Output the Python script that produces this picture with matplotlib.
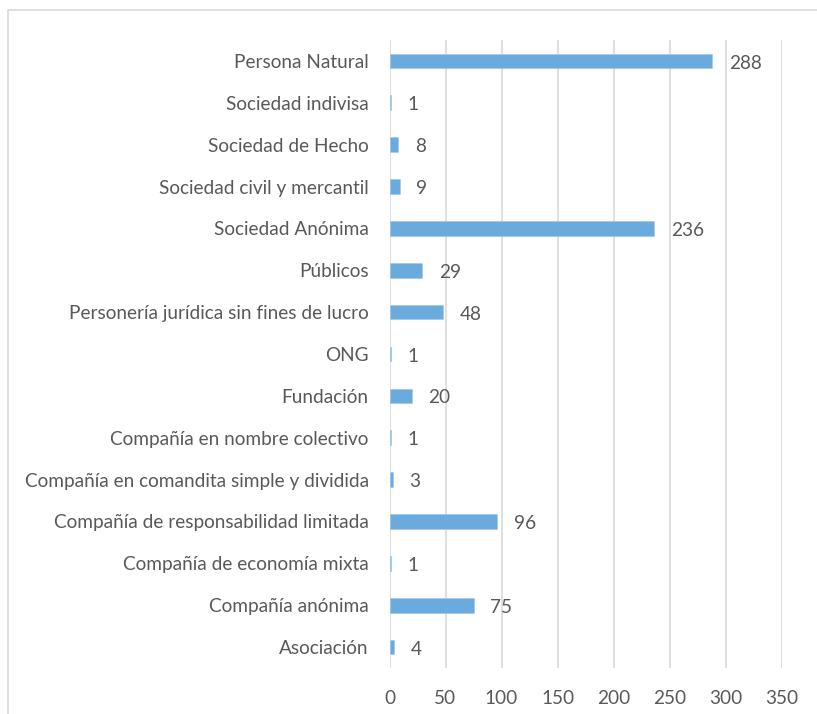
import matplotlib.pyplot as plt
from matplotlib.patches import Rectangle

categories = [
    "Persona Natural",
    "Sociedad indivisa",
    "Sociedad de Hecho",
    "Sociedad civil y mercantil",
    "Sociedad Anónima",
    "Públicos",
    "Personería jurídica sin fines de lucro",
    "ONG",
    "Fundación",
    "Compañía en nombre colectivo",
    "Compañía en comandita simple y dividida",
    "Compañía de responsabilidad limitada",
    "Compañía de economía mixta",
    "Compañía anónima",
    "Asociación",
]
values = [288, 1, 8, 9, 236, 29, 48, 1, 20, 1, 3, 96, 1, 75, 4]
xticks = [0, 50, 100, 150, 200, 250, 300, 350]

text_color = "#595959"
bar_color = "#6BAADC"
grid_color = "#D9D9D9"
fs = 13.7

plt.rcParams["font.family"] = ["Lato", "DejaVu Sans"]

W, H = 817, 714
fig = plt.figure(figsize=(W / 100, H / 100), dpi=100)
ax = fig.add_axes([389.5 / W, 1 - 668 / H, (781.7 - 389.5) / W, (668 - 40) / H])

# chart border (cut off at right and bottom like the screenshot)
fig.patches.append(Rectangle((7.5 / W, -0.1), 1.2, 1 - 10.5 / H + 0.1,
                             transform=fig.transFigure, fill=False,
                             edgecolor="#D9D9D9", linewidth=1.2))

y = list(range(len(categories)))
ax.barh(y, values, height=0.35, color=bar_color, edgecolor="#9CC6EA", linewidth=0.4, zorder=3)
for yi, v in zip(y, values):
    ax.annotate(str(v), (v, yi), xytext=(12, -1.5), textcoords="offset points",
                va="center", ha="left", fontsize=fs, color=text_color)

ax.set_yticks(y)
ax.set_yticklabels(categories)
ax.set_ylim(len(categories) - 0.5, -0.5)
ax.set_xlim(0, 350)
ax.set_xticks(xticks)
ax.tick_params(axis="y", length=0, pad=15, labelsize=fs, labelcolor=text_color)
ax.tick_params(axis="x", length=0, pad=16, labelsize=fs, labelcolor=text_color)
ax.grid(axis="x", color=grid_color, linewidth=1.2, zorder=0)
for s in ax.spines.values():
    s.set_visible(False)

fig.savefig("out.png", dpi=100)
